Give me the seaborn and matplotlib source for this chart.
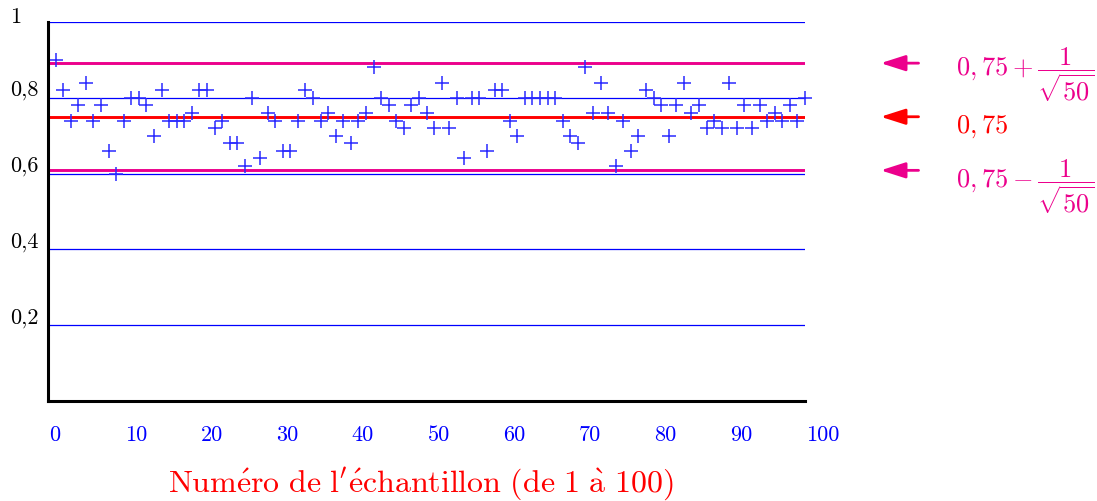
import numpy as np
import pandas as pd
import matplotlib
matplotlib.use("Agg")
import matplotlib.pyplot as plt
import seaborn as sns

# ---------------- data ----------------
sample_index = list(range(1, 101))
frequencies = [
    0.90, 0.82, 0.74, 0.78, 0.84, 0.74, 0.78, 0.66, 0.60, 0.74,
    0.80, 0.80, 0.78, 0.70, 0.82, 0.74, 0.74, 0.74, 0.76, 0.82,
    0.82, 0.72, 0.74, 0.68, 0.68, 0.62, 0.80, 0.64, 0.76, 0.74,
    0.66, 0.66, 0.74, 0.82, 0.80, 0.74, 0.76, 0.70, 0.74, 0.68,
    0.74, 0.76, 0.88, 0.80, 0.78, 0.74, 0.72, 0.78, 0.80, 0.76,
    0.72, 0.84, 0.72, 0.80, 0.64, 0.80, 0.80, 0.66, 0.82, 0.82,
    0.74, 0.70, 0.80, 0.80, 0.80, 0.80, 0.80, 0.74, 0.70, 0.68,
    0.88, 0.76, 0.84, 0.76, 0.62, 0.74, 0.66, 0.70, 0.82, 0.80,
    0.78, 0.70, 0.78, 0.84, 0.76, 0.78, 0.72, 0.74, 0.72, 0.84,
    0.72, 0.78, 0.72, 0.78, 0.74, 0.76, 0.74, 0.78, 0.74, 0.80,
]
p_value = 0.75
sample_size = 50
grid_levels = [0.2, 0.4, 0.6, 0.8, 1.0]
y_tick_labels = ["0,2", "0,4", "0,6", "0,8", "1"]
x_ticks = [0, 10, 20, 30, 40, 50, 60, 70, 80, 90, 100]
x_tick_labels = ["0", "10", "20", "30", "40", "50", "60", "70", "80", "90", "100"]
# "Numéro de l’échantillon (de 1 à 100)" written with TeX accents
x_label = r"$\mathrm{Num\acute{e}ro\ de\ l'\acute{e}chantillon\ (de\ 1\ \grave{a}\ 100)}$"
band_labels = [r"$0,75+\dfrac{1}{\sqrt{50}}$", r"$0,75$", r"$0,75-\dfrac{1}{\sqrt{50}}$"]

half_width = 1 / np.sqrt(sample_size)
band_levels = [p_value + half_width, p_value, p_value - half_width]

df = pd.DataFrame({"echantillon": sample_index, "frequence": frequencies})

# ---------------- style ----------------
PINK = "#ec008c"
RED = "#ff0000"
BLUE = "#0000ff"
band_colors = [PINK, RED, PINK]

sns.set_theme(style="white")
plt.rcParams["font.family"] = ["cmr10", "DejaVu Serif"]
plt.rcParams["mathtext.fontset"] = "cm"
plt.rcParams["axes.unicode_minus"] = False

W, H = 1097, 502
fig = plt.figure(figsize=(W / 100, H / 100), dpi=100)
x0, x1, y0, y1 = 48, 805, 402, 23
ax = fig.add_axes([x0 / W, (H - y0) / H, (x1 - x0) / W, (y0 - y1) / H])
ax.set_xlim(0, 100)
ax.set_ylim(0, 1)

# horizontal blue grid lines
ax.hlines(grid_levels, 0, 100, colors=BLUE, linewidth=0.9, zorder=1)

# confidence band lines
for lvl, col in zip(band_levels, band_colors):
    ax.hlines(lvl, 0, 100, colors=col, linewidth=2.1, zorder=2)

# sample frequencies
sns.scatterplot(data=df, x="echantillon", y="frequence", marker="+", s=90,
                color="#2a2aff", linewidth=1.1, ax=ax, zorder=3, clip_on=False,
                legend=False)

# axes look
sns.despine(ax=ax)
for side in ("left", "bottom"):
    ax.spines[side].set_color("black")
    ax.spines[side].set_linewidth(2.2)
    ax.spines[side].set_zorder(4)
ax.set_xticks([])
ax.set_yticks([])
ax.set_xlabel("")
ax.set_ylabel("")

# y tick labels (left aligned, above lines)
for lvl, lab in zip(grid_levels, y_tick_labels):
    ax.annotate(lab, xy=(0, lvl), xycoords=("axes fraction", "data"),
                xytext=(-38, 3 if lvl < 1 else 0), textcoords="offset pixels",
                ha="left", va="baseline", fontsize=16, color="black",
                annotation_clip=False)

# x tick labels (blue, left aligned at tick)
for t, lab in zip(x_ticks, x_tick_labels):
    ax.annotate(lab, xy=(t, 0), xycoords="data",
                xytext=(1, -39), textcoords="offset pixels",
                ha="left", va="baseline", fontsize=16, color=BLUE,
                annotation_clip=False)

# x label
ax.annotate(x_label, xy=(0.492, 0), xycoords="axes fraction",
            xytext=(0, -90), textcoords="offset pixels",
            ha="center", va="baseline", fontsize=23, color=RED,
            annotation_clip=False)

# arrows + band labels on the right
label_dy = [-11.7, -14.7, -16.3]
for lvl, col, lab, dy in zip(band_levels, band_colors, band_labels, label_dy):
    ax.annotate("", xy=(110.0, lvl), xytext=(115.0, lvl), xycoords="data",
                arrowprops=dict(arrowstyle="-|>,head_length=0.75,head_width=0.24",
                                color=col, lw=2.0, mutation_scale=20,
                                shrinkA=0, shrinkB=0),
                annotation_clip=False)
    ax.annotate(lab, xy=(119.9, lvl), xycoords="data",
                xytext=(0, dy), textcoords="offset pixels",
                ha="left", va="baseline", fontsize=19, color=col,
                annotation_clip=False)

fig.savefig("out.png", dpi=100)
